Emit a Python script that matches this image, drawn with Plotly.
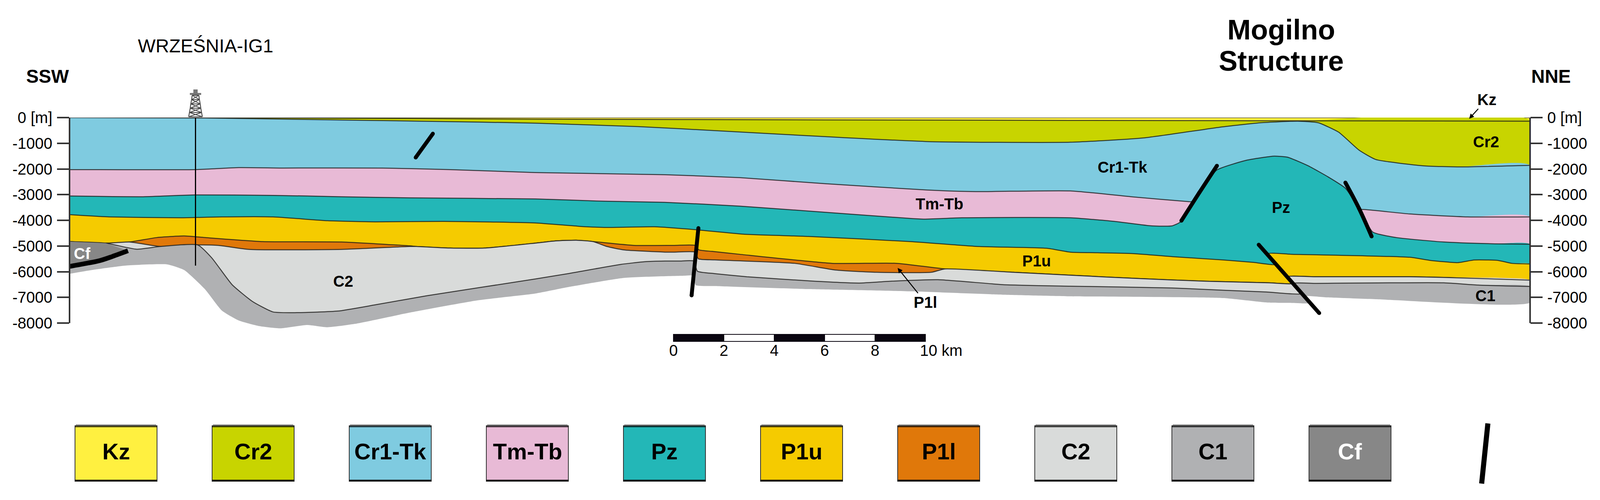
import plotly.graph_objects as go

W, H = 4102, 1280

# depth of the top of every unit along the section, x in km from the left edge, y in m
kz_top_x = [0, 58]
kz_top_y = [0, 0]
cr2_top_x = [0, 8, 18.48, 30, 39.72, 48.75, 58]
cr2_top_y = [0, -10, -60, -90, -110, -125, -140]
tk_top_x = [0, 5.37, 7.53, 11.6, 16.21, 18.48, 22.55, 25.93, 30, 34.06, 39.72, 42.69, 45.65, 47.27, 48.75, 49.56,
            50.37, 51.18, 51.85, 53.74, 55.22, 57.97]
tk_top_y = [0, -17, -44, -105, -175, -218, -349, -524, -742, -934, -960, -786, -375, -201, -140, -201,
            -567, -1266, -1633, -1877, -1921, -1860]
tm_top_x = [0, 4.96, 6.72, 8.48, 12.41, 15.12, 18.48, 23.63, 26.61, 30, 34.06, 35.96, 39.72, 42.15, 44.44,
            47.81, 51.38, 53.2, 55.49, 57.97]
tm_top_y = [-2025, -2025, -1947, -1964, -1964, -2025, -2139, -2226, -2340, -2575, -2820, -2881, -2855, -3082, -3274,
            -3448, -3579, -3754, -3867, -3867]
pz_top_x = [0, 2.93, 4.96, 8.08, 10.79, 13.5, 18.48, 21.19, 23.63, 26.61, 29.32, 33.39, 33.93, 35.42, 39.72, 41.47,
            42.96, 43.76, 44.1, 44.84, 45.52, 46.73, 47.81, 48.35, 49.16, 49.96, 50.64, 51.18, 51.72, 52.66, 54.55,
            56.57, 57.97]
pz_top_y = [-3055, -3082, -3012, -3029, -3082, -3125, -3169, -3256, -3300, -3448, -3640, -3929, -3955, -3902, -3902, -4042,
            -4217, -4217, -4059, -2925, -2052, -1659, -1502, -1545, -1877, -2313, -2750, -3536, -4452, -4671, -4845,
            -4915, -4932]
p1u_top_x = [0, 1.57, 4.42, 6.04, 8.08, 10.24, 12.14, 14.85, 18.48, 20.24, 21.33, 23.22, 24.85, 26.75, 29.32, 33.39,
             36.1, 38.81, 39.72, 40.8, 42.28, 43.76, 45.79, 47.0, 47.88, 47.58, 48.5, 53.2, 54.01, 55.09, 55.76, 56.7, 57.24, 57.97]
p1u_top_y = [-3780, -3867, -3902, -3867, -3867, -4016, -4059, -4042, -4103, -4234, -4278, -4252, -4365, -4540, -4627, -4828,
             -5020, -5090, -5238, -5264, -5299, -5413, -5544, -5640, -5718, -5299, -5322, -5439, -5561, -5648, -5544, -5561, -5675, -5701]
p1l_top_x = [0, 1.44, 2.38, 3.47, 4.55, 5.37, 7.67, 10.79, 13.5, 13.77, 15.12, 16.48, 18.48, 19.29, 20.11, 20.78,
             22.41, 24.0, 24.82, 24.98, 25.5, 26.61, 30.27, 32.84, 34.74, 37.45, 39.72, 42.42, 45.11, 47.6, 48.55, 48.32, 49.5, 53.2, 54.55, 57.97]
p1l_top_y = [-4828, -4889, -4845, -4671, -4609, -4671, -4828, -4845, -4994, -5020, -5081, -5081, -4889, -4802, -4775, -4828,
             -4976, -4976, -4976, -5151, -5210, -5325, -5675, -5675, -5893, -6024, -6137, -6268, -6373, -6435, -6460, -6198, -6198, -6198, -6224, -6329]
c2_top_x = [0, 1.44, 2.38, 3.6, 5.09, 5.91, 7.13, 10.79, 13.5, 13.77, 15.12, 16.48, 18.48, 19.29, 20.11, 20.78,
            21.33, 22, 23.63, 24.0, 24.82, 24.96, 25.6, 28.78, 30.4, 32.03, 34.2, 34.74, 37.45, 39.72, 42.42, 45.11, 47.6, 48.55, 48.32,
            49.5, 53.2, 54.55, 57.97]
c2_top_y = [-4828, -4889, -4845, -5020, -4959, -4976, -5133, -5133, -5020, -5020, -5081, -5081, -4889, -4802, -4775, -4828,
            -5020, -5151, -5238, -5238, -5238, -5500, -5540, -5675, -5936, -6024, -6024, -5893, -6024, -6137, -6268, -6373, -6435, -6460, -6198,
            -6198, -6198, -6224, -6329]
c1_top_x = [0, 1.44, 2.66, 3.6, 5.09, 5.64, 6.45, 7.26, 8.08, 9.02, 10.65, 12.14, 14.17, 18.48, 19.84, 21.87, 22.82,
            23.63, 24.2, 24.78, 24.92, 25.6, 26.88, 29.59, 31.35, 32.57, 34.47, 37.04, 39.72, 43.76, 45.79, 47.5, 48.89, 48.56, 49.5, 54.55, 55.9, 57.97]
c1_top_y = [-4828, -4889, -5125, -5020, -4959, -5456, -6504, -7159, -7569, -7595, -7534, -7290, -6940, -6286, -6067, -5718, -5613,
            -5587, -5587, -5587, -5980, -6075, -6198, -6373, -6443, -6373, -6312, -6504, -6565, -6635, -6722, -6790, -6853, -6460, -6455, -6434, -6521, -6574]
c1_base_x = [0, 0.89, 2.25, 3.88, 4.55, 5.37, 6.04, 6.72, 7.53, 8.35, 9.43, 10.24, 11.33, 13.5, 16.21, 18.48, 19.84, 22,
             24.44, 24.78, 24.85, 25.6, 29.32, 33.39, 37.04, 39.72, 45.79, 47.54, 48.5, 49.25, 49.01, 49.9, 51.85, 57.97]
c1_base_y = [-6085, -5936, -5762, -5718, -5936, -6678, -7508, -7901, -8119, -8206, -8075, -8163, -8032, -7595, -7115, -6853, -6591, -6242,
             -6155, -6155, -6521, -6560, -6678, -6766, -6897, -6958, -7028, -7202, -7215, -7220, -6958, -7000, -7071, -7202]
cf_x = [0, 1.44, 2.32, 1.7, 1.21, 0.73, 0]
cf_y = [-4828, -4889, -5186, -5408, -5566, -5665, -5795]
cf_fault_x = [0, 0.73, 1.21, 1.7, 2.32]
cf_fault_y = [-5795, -5665, -5566, -5408, -5186]

# fault traces
fault_x = [[14.42, 13.74], [24.96, 24.69], [45.54, 44.84, 44.13], [50.64, 51.18, 51.68], [47.2, 49.6]]
fault_y = [[-629, -1554], [-4304, -6923], [-1877, -2925, -4016], [-2532, -3536, -4627], [-4950, -7613]]

well_x = [5.0, 5.0]
well_y = [0, -5764]

# depth ticks
tick_vals = [0, -1000, -2000, -3000, -4000, -5000, -6000, -7000, -8000]
tick_text = ["0 [m]", "-1000", "-2000", "-3000", "-4000", "-5000", "-6000", "-7000", "-8000"]

# legend
legend_names = ["Kz", "Cr2", "Cr1-Tk", "Tm-Tb", "Pz", "P1u", "P1l", "C2", "C1", "Cf"]
legend_colors = ["#FFF040", "#C8D400", "#7FCBE0", "#E8BAD6", "#23B7B7", "#F5CB00", "#E0780A", "#D9DBDA", "#B0B1B3", "#878787"]

# km marks of the scale bar
scale_km = [0, 2, 4, 6, 8, 10]
scale_text = ["0", "2", "4", "6", "8", "10 km"]
scale_start = 23.97

layers = [
    ("Kz", kz_top_x, kz_top_y),
    ("Cr2", cr2_top_x, cr2_top_y),
    ("Cr1-Tk", tk_top_x, tk_top_y),
    ("Tm-Tb", tm_top_x, tm_top_y),
    ("Pz", pz_top_x, pz_top_y),
    ("P1u", p1u_top_x, p1u_top_y),
    ("P1l", p1l_top_x, p1l_top_y),
    ("C2", c2_top_x, c2_top_y),
    ("C1", c1_top_x, c1_top_y),
]
color_of = dict(zip(legend_names, legend_colors))
SMOOTH = dict(shape="spline", smoothing=0.5)


def fx(x):
    return x / W


def fy(y):
    return 1 - y / H


fig = go.Figure()

# each unit is filled from its top down to the top of C1, the next one paints over it, C1 alone has the real base
for name, top_x, top_y in layers:
    base_x, base_y = (c1_base_x, c1_base_y) if name == "C1" else (c1_top_x, c1_top_y)
    fig.add_trace(go.Scatter(x=top_x + base_x[::-1], y=top_y + base_y[::-1], mode="lines", fill="toself",
                             fillcolor=color_of[name], line=dict(width=0, **SMOOTH), hoverinfo="skip"))
    fig.add_trace(go.Scatter(x=top_x, y=top_y, mode="lines", line=dict(color="rgba(25,25,25,0.8)", width=2.5, **SMOOTH),
                             hoverinfo="skip"))

fig.add_trace(go.Scatter(x=cf_x, y=cf_y, mode="lines", fill="toself", fillcolor=color_of["Cf"], line=dict(width=0),
                         hoverinfo="skip"))
fig.add_trace(go.Scatter(x=cf_fault_x, y=cf_fault_y, mode="lines", line=dict(color="black", width=12, shape="spline"),
                         hoverinfo="skip"))

fig.add_trace(go.Scatter(x=well_x, y=well_y, mode="lines", line=dict(color="black", width=3), hoverinfo="skip"))

for xs, ys in zip(fault_x, fault_y):
    fig.add_trace(go.Scatter(x=xs, y=ys, mode="lines+markers", line=dict(color="black", width=10, shape="spline"),
                             marker=dict(color="black", size=10), hoverinfo="skip"))

# keeps the right hand axis alive
fig.add_trace(go.Scatter(x=[57.97], y=[0], yaxis="y2", mode="markers", marker=dict(opacity=0), hoverinfo="skip"))

shapes = []

# the two depth axis lines stop at the last tick, the section itself goes a bit deeper
for ax_px in (178, 3917):
    shapes.append(dict(type="line", xref="paper", yref="y", x0=fx(ax_px), x1=fx(ax_px), y0=tick_vals[0], y1=tick_vals[-1],
                       line=dict(color="#333333", width=4)))

# scale bar
for i in range(5):
    shapes.append(dict(type="rect", xref="x", yref="paper", x0=scale_start + scale_km[i], x1=scale_start + scale_km[i + 1],
                       y0=fy(874), y1=fy(856), fillcolor="#0a0510" if i % 2 == 0 else "white",
                       line=dict(color="#0a0510", width=2)))

# legend boxes
for i, (name, col) in enumerate(zip(legend_names, legend_colors)):
    x0 = 192 + i * 351
    shapes.append(dict(type="rect", xref="paper", yref="paper", x0=fx(x0), x1=fx(x0 + 210), y0=fy(1232), y1=fy(1090),
                       fillcolor=col, line=dict(color="#333333", width=2)))
    shapes.append(dict(type="rect", xref="paper", yref="paper", x0=fx(x0), x1=fx(x0 + 210), y0=fy(1094), y1=fy(1090),
                       fillcolor="rgba(0,0,0,0.6)", line=dict(width=0)))
    shapes.append(dict(type="rect", xref="paper", yref="paper", x0=fx(x0 + 2), x1=fx(x0 + 208), y0=fy(1090), y1=fy(1086),
                       fillcolor="rgba(0,0,0,0.35)", line=dict(width=0)))
    shapes.append(dict(type="rect", xref="paper", yref="paper", x0=fx(x0), x1=fx(x0 + 210), y0=fy(1232), y1=fy(1228),
                       fillcolor="rgba(0,0,0,0.85)", line=dict(width=0)))

# legend fault
shapes.append(dict(type="line", xref="paper", yref="paper", x0=fx(3809), y0=fy(1084), x1=fx(3793), y1=fy(1238),
                   line=dict(color="black", width=13)))

# derrick above the well
cx = 500.5
levels = [299, 288, 277, 266, 255, 244]
half = [17.5, 15.5, 13.5, 12, 10, 8.5]
for i in range(len(levels)):
    shapes.append(dict(type="line", xref="paper", yref="paper", x0=fx(cx - half[i]), x1=fx(cx + half[i]),
                       y0=fy(levels[i]), y1=fy(levels[i]), line=dict(color="#444444", width=2)))
    if i < len(levels) - 1:
        for s in (-1, 1):
            shapes.append(dict(type="line", xref="paper", yref="paper", x0=fx(cx + s * half[i]), x1=fx(cx + s * half[i + 1]),
                               y0=fy(levels[i]), y1=fy(levels[i + 1]), line=dict(color="#555555", width=2.5)))
            shapes.append(dict(type="line", xref="paper", yref="paper", x0=fx(cx + s * half[i]), x1=fx(cx - s * half[i + 1]),
                               y0=fy(levels[i]), y1=fy(levels[i + 1]), line=dict(color="#444444", width=2)))
shapes.append(dict(type="rect", xref="paper", yref="paper", x0=fx(486), x1=fx(515), y0=fy(243), y1=fy(238),
                   fillcolor="#777777", line=dict(width=0)))
shapes.append(dict(type="rect", xref="paper", yref="paper", x0=fx(495), x1=fx(506), y0=fy(238), y1=fy(229),
                   fillcolor="#777777", line=dict(width=0)))

FONT = "Liberation Sans"


def label(text, x, y, size, bold=False, color="black", **kw):
    txt = "<b>%s</b>" % text if bold else text
    return dict(text=txt, xref="paper", yref="paper", x=fx(x), y=fy(y), xanchor="center", yanchor="middle",
                showarrow=False, font=dict(family=FONT, size=size, color=color), **kw)


annotations = [
    label("Mogilno", 3280, 76, 72, bold=True),
    label("Structure", 3280, 156, 72, bold=True),
    label("WRZEŚNIA-IG1", 526, 117, 48),
    label("SSW", 122, 195, 48, bold=True),
    label("NNE", 3970, 195, 48, bold=True),
    label("C2", 878, 720, 40, bold=True),
    label("Tm-Tb", 2405, 522, 40, bold=True),
    label("P1u", 2653, 668, 40, bold=True),
    label("Cr1-Tk", 2873, 428, 40, bold=True),
    label("Pz", 3279, 531, 40, bold=True),
    label("Cr2", 3804, 363, 40, bold=True),
    label("C1", 3802, 757, 40, bold=True),
    label("Cf", 210, 649, 40, bold=True, color="white"),
]
# labels with a leader to a thin unit
annotations.append(dict(text="<b>P1l</b>", xref="paper", yref="paper", x=fx(2298), y=fy(686), ax=71, ay=88, showarrow=True,
                        arrowhead=2, arrowsize=1, arrowwidth=2.5, arrowcolor="black",
                        font=dict(family=FONT, size=40, color="black")))
annotations.append(dict(text="<b>Kz</b>", xref="paper", yref="paper", x=fx(3761), y=fy(304), ax=45, ay=-49, showarrow=True,
                        arrowhead=2, arrowsize=1, arrowwidth=2.5, arrowcolor="black",
                        font=dict(family=FONT, size=40, color="black")))
for i, name in enumerate(legend_names):
    annotations.append(label(name, 192 + i * 351 + 105, 1155, 58, bold=True, color="white" if name == "Cf" else "black"))
for km, txt in zip(scale_km, scale_text):
    annotations.append(dict(text=txt, xref="x", yref="paper", x=scale_start + km, y=fy(897),
                            xanchor="left" if km == 10 else "center", xshift=-16 if km == 10 else 0, yanchor="middle",
                            showarrow=False, font=dict(family=FONT, size=40, color="black")))

# 1000 m is 65.75 px, the range runs 400 m past the last tick so the deep fill is not cut
y_axis = dict(range=[-8400, 0], domain=[fy(853.3), fy(301)], tickmode="array", tickvals=tick_vals, ticktext=tick_text,
              ticks="outside", ticklen=31, tickwidth=4, tickcolor="#333333", showline=False,
              showgrid=False, zeroline=False, ticklabelstandoff=4, automargin=False,
              tickfont=dict(family=FONT, size=40, color="black"))

fig.update_layout(
    template="none",
    width=W, height=H,
    margin=dict(l=0, r=0, t=0, b=0),
    paper_bgcolor="white", plot_bgcolor="rgba(0,0,0,0)",
    showlegend=False,
    xaxis=dict(range=[0, 57.97], domain=[fx(178), fx(3917)], visible=False, automargin=False),
    yaxis=dict(side="left", **y_axis),
    yaxis2=dict(overlaying="y", side="right", anchor="x", **y_axis),
    shapes=shapes,
    annotations=annotations,
)

fig.write_html("out.html", post_script="document.body.style.margin='0';", config=dict(displayModeBar=False))
